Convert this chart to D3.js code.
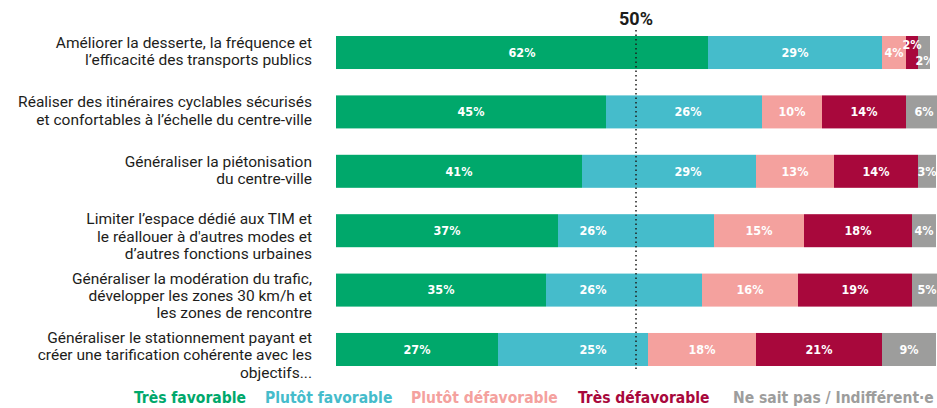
<!DOCTYPE html>
<html>
<head>
<meta charset="utf-8">
<script src="https://cdn.jsdelivr.net/npm/d3@7"></script>
<style>
  html, body { margin: 0; padding: 0; background: #fff; }
  svg { display: block; }
</style>
</head>
<body>
<svg id="chart" width="937" height="408"></svg>
<script>
// Survey measures (one label line per array entry)
const categories = [
  ["Améliorer la desserte, la fréquence et", "l’efficacité des transports publics"],
  ["Réaliser des itinéraires cyclables sécurisés", "et confortables à l’échelle du centre-ville"],
  ["Généraliser la piétonisation", "du centre-ville"],
  ["Limiter l’espace dédié aux TIM et", "le réallouer à d'autres modes et", "d’autres fonctions urbaines"],
  ["Généraliser la modération du trafic,", "développer les zones 30 km/h et", "les zones de rencontre"],
  ["Généraliser le stationnement payant et", "créer une tarification cohérente avec les", "objectifs..."]
];

const seriesNames = ["Très favorable", "Plutôt favorable", "Plutôt défavorable", "Très défavorable", "Ne sait pas / Indifférent·e"];
const seriesColors = ["#00a86b", "#45bccb", "#f4a19e", "#a8083c", "#9d9d9c"];

// Percent of answers per measure, one array per answer
const tresFavorable      = [62, 45, 41, 37, 35, 27];
const plutotFavorable    = [29, 26, 29, 26, 26, 25];
const plutotDefavorable  = [4, 10, 13, 15, 16, 18];
const tresDefavorable    = [2, 14, 14, 18, 19, 21];
const neSaitPas          = [2, 6, 3, 4, 5, 9];

const referenceTick = 50;
const referenceLabel = "50%";

const seriesValues = [tresFavorable, plutotFavorable, plutotDefavorable, tresDefavorable, neSaitPas];
const keys = seriesNames.map((_, i) => "s" + i);
const rows = categories.map((c, r) => {
  const o = { idx: r };
  keys.forEach((k, i) => o[k] = seriesValues[i][r]);
  return o;
});

const svg = d3.select("#chart");
const x = d3.scaleLinear().domain([0, 100]).range([336, 936]);
const y = d3.scaleBand().domain(d3.range(categories.length)).range([36, 366]).paddingInner(0.444).paddingOuter(0);
const xRef = x(referenceTick);

const stacked = d3.stack().keys(keys)(rows);
const labelFont = "Roboto, 'Liberation Sans', sans-serif";
const condFont = "'Liberation Sans Narrow', 'DejaVu Sans Condensed', 'Roboto', sans-serif";

// Stacked segments
const layers = svg.append("g").selectAll("g")
  .data(stacked).join("g")
  .attr("fill", (d, i) => seriesColors[i]);

layers.selectAll("rect")
  .data(d => d.map(p => ({ p, key: d.key })))
  .join("rect")
  .attr("x", d => x(d.p[0]))
  .attr("y", d => y(d.p.data.idx))
  .attr("width", d => x(d.p[1]) - x(d.p[0]))
  .attr("height", y.bandwidth());

// Value labels inside segments
stacked.forEach((layer, si) => {
  layer.forEach(p => {
    const v = p[1] - p[0];
    const x0 = x(p[0]), x1 = x(p[1]);
    const w = x1 - x0;
    let cx = (x0 + x1) / 2;
    let cy = y(p.data.idx) + y.bandwidth() / 2;
    // keep labels clear of the 50% line when it crosses the segment
    if (x0 < xRef && x1 > xRef && Math.abs(cx - xRef) < 70) {
      cx = cx < xRef + 10 ? xRef - 43 : xRef + 52;
    }
    if (w < 16) {
      // narrow segments: stagger text above/below the centre line
      cy += (si === 3 ? -8 : 8);
      if (si === 4) cx = x0 + 7;
    }
    svg.append("text")
      .attr("x", cx)
      .attr("y", cy)
      .attr("dy", "0.35em")
      .attr("text-anchor", "middle")
      .attr("fill", "#fff")
      .attr("font-family", condFont)
      .attr("font-weight", "bold")
      .attr("font-size", 12.5)
      .text(v + "%");
  });
});

// Category labels
const catG = svg.append("g");
categories.forEach((lines, r) => {
  const t = catG.append("text")
    .attr("text-anchor", "end")
    .attr("fill", "#1d1d1b")
    .attr("font-family", labelFont)
    .attr("font-size", 15.5);
  const top = y(r) + (lines.length > 2 ? 10 : 12);
  lines.forEach((ln, i) => {
    t.append("tspan")
      .attr("x", 312)
      .attr("y", top + i * 17.4)
      .text(ln);
  });
});

// 50% reference line
svg.append("line")
  .attr("x1", xRef).attr("x2", xRef)
  .attr("y1", 30).attr("y2", 372)
  .attr("stroke", "#1d1d1b")
  .attr("stroke-width", 1.5)
  .attr("stroke-dasharray", "1.5,3");

svg.append("text")
  .attr("x", xRef)
  .attr("y", 25)
  .attr("text-anchor", "middle")
  .attr("font-family", labelFont)
  .attr("font-weight", "bold")
  .attr("font-size", 18)
  .attr("fill", "#1d1d1b")
  .text(referenceLabel);

// Legend
const legendX = [134, 265, 411, 578, 733];
seriesNames.forEach((name, i) => {
  svg.append("text")
    .attr("x", legendX[i])
    .attr("y", 403)
    .attr("fill", seriesColors[i])
    .attr("font-family", condFont)
    .attr("font-weight", "bold")
    .attr("font-size", 15.5)
    .text(name);
});
</script>
</body>
</html>
